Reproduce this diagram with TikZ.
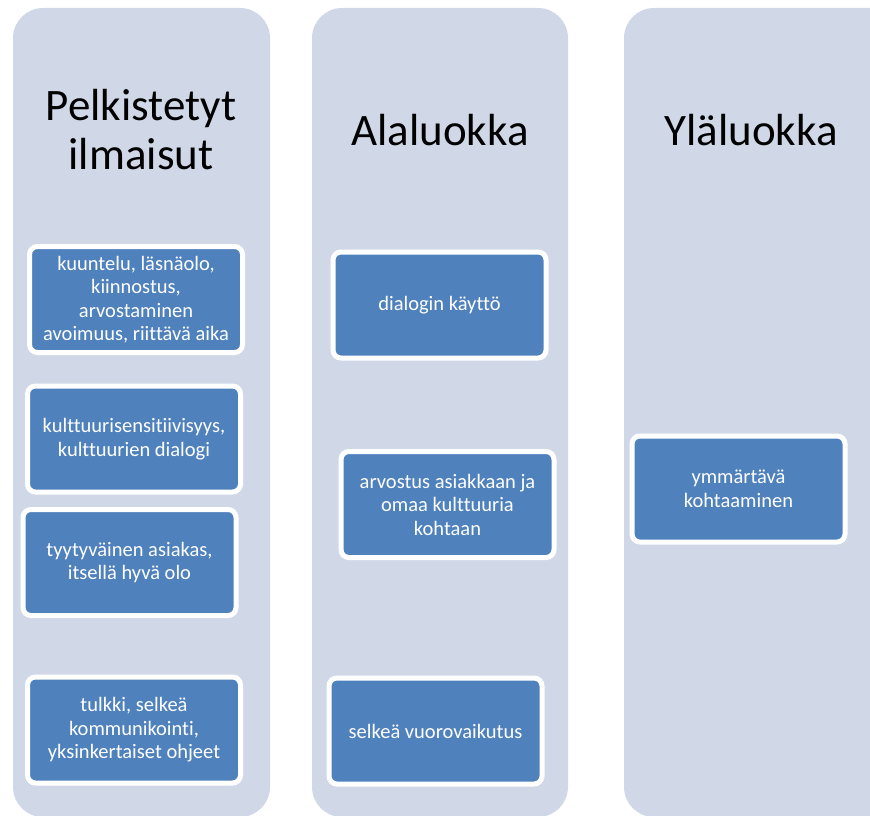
\documentclass[tikz,border=0pt]{standalone}
\usepackage{fontspec}
\setmainfont{Carlito}[Ligatures=NoCommon]
\definecolor{colfill}{HTML}{D0D8E8}
\definecolor{boxblue}{HTML}{4F81BD}
\begin{document}
\begin{tikzpicture}[x=1pt, y=-1pt,
		column/.style={fill=colfill, rounded corners=30pt},
		title/.style={align=center, font=\fontsize{45}{49}\selectfont, text=black},
		itembox/.style={fill=boxblue, draw=white, line width=5pt, rounded corners=8pt,
			minimum width=213pt, minimum height=106pt, inner sep=2pt,
			align=center, text=white,
			font=\fontsize{20.5}{23.5}\selectfont}]
		\useasboundingbox (0,0) rectangle (870,816);
		\clip (0,0) rectangle (870,816);
		% columns
		\fill[column] (13,8) rectangle (270,817);
		\fill[column] (312,8) rectangle (568,817);
		\fill[column] (624,8) rectangle (900,817);
		% titles
		\node[title] (tpelk) at (141,130) {Pelkistetyt\\ilmaisut};
		\node[title] (tala) at (440,130) {Alaluokka};
		\node[title] (tyla) at (751,130) {Yläluokka};
		% first column
		\node[itembox] (pelk1) at (136,299.5) {kuuntelu, läsnäolo,\\kiinnostus,\\arvostaminen\\avoimuus, riittävä aika};
		\node[itembox] (pelk2) at (134,439) {kulttuurisensitiivisyys,\\kulttuurien dialogi};
		\node[itembox] (pelk3) at (129.5,562.5) {tyytyväinen asiakas,\\itsellä hyvä olo};
		\node[itembox] (pelk4) at (134,730) {tulkki, selkeä\\kommunikointi,\\yksinkertaiset ohjeet};
		% second column
		\node[itembox] (ala1) at (439.5,305) {dialogin käyttö};
		\node[itembox] (ala2) at (447.5,504.5) {arvostus asiakkaan ja\\omaa kulttuuria\\kohtaan};
		\node[itembox] (ala3) at (435.5,731) {selkeä vuorovaikutus};
		% third column
		\node[itembox] (yla1) at (738.5,489) {ymmärtävä\\kohtaaminen};
	\end{tikzpicture}
\end{document}
